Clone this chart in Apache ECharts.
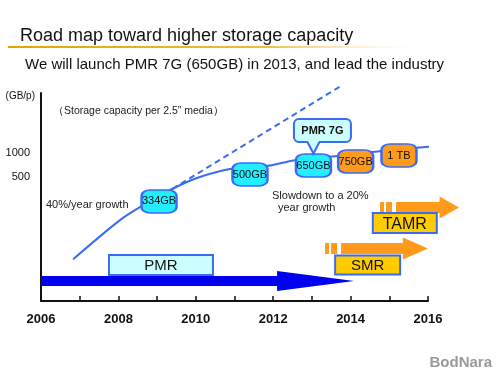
<!DOCTYPE html>
<html>
<head>
<meta charset="utf-8">
<script src="https://cdn.jsdelivr.net/npm/echarts@6/dist/echarts.min.js"></script>
<style>
html,body{margin:0;padding:0;background:#fff;}
#chart{width:500px;height:375px;}
</style>
</head>
<body>
<div id="chart"></div>
<script>
// ---------- DATA ----------
const xTickYears = [2006, 2008, 2010, 2012, 2014, 2016];
const yTickValues = [500, 1000];

// capacity growth curve (year, GB per platter)
const curveYears = [2006.83, 2008.04, 2008.61, 2009.39, 2010.03, 2010.88, 2011.84, 2012.59, 2013.67, 2014.81, 2016.52];
const curveGB    = [47, 145, 218, 355, 487, 631, 688, 818, 917, 1059, 1259];

// 40%/year extrapolation (dashed)
const trendYears = [2009.39, 2013.75];
const trendGB    = [355, 6879];

// capacity milestones
const milestoneLabels = ['334GB', '500GB', '650GB', '750GB', '1 TB'];
const milestoneYears  = [2009.05, 2011.40, 2013.04, 2014.13, 2015.25];
const milestoneGB     = [248, 539, 698, 783, 931];
const milestoneKind   = ['pmr', 'pmr', 'pmr', 'next', 'next'];

// technology roadmap arrows
const techNames     = ['PMR', 'SMR', 'TAMR'];
const techStart     = [2006.0, 2013.34, 2014.76];
const techHeadStart = [2012.10, 2015.35, 2016.30];
const techEnd       = [2014.09, 2016.00, 2016.80];
const techLaneGB    = [25.1, 64, 208];
const techLabelYear = [2009.10, 2014.44, 2015.40];
const techLabelGB   = [39.8, 39.8, 133];

const calloutText = 'PMR 7G';
const calloutIndex = 2;

// ---------- STYLE ----------
const FONT = '"Liberation Sans", Arial, sans-serif';
const lineBlue = '#3A6BF5';
const arrowColors = ['#0000F0', '#FF9A1A', '#FF9A1A'];
const techBoxColors = ['#CCFFFF', '#FFCC00', '#FFCC00'];
const techBoxSizes = [[104, 20], [65, 19], [64, 20]];
const techFontSizes = [15, 15, 16];

const chart = echarts.init(document.getElementById('chart'), null, {renderer: 'canvas'});

function renderArrow(params, api) {
  const i = params.dataIndex;
  const lane = api.value(3);
  const s = api.coord([api.value(0), lane]);
  const hs = api.coord([api.value(1), lane]);
  const e = api.coord([api.value(2), lane]);
  const y = s[1];
  const bh = i === 0 ? 10 : 11, hh = i === 0 ? 20 : 22;
  const color = arrowColors[i];
  const striped = i > 0;
  const x0 = striped ? s[0] + 16 : s[0];
  const children = [{
    type: 'polygon',
    shape: {points: [[x0, y - bh / 2], [hs[0], y - bh / 2], [hs[0], y - hh / 2], [e[0], y],
                     [hs[0], y + hh / 2], [hs[0], y + bh / 2], [x0, y + bh / 2]]},
    style: {fill: color}
  }];
  if (striped) {
    children.push({type: 'rect', shape: {x: s[0], y: y - bh / 2, width: 4, height: bh}, style: {fill: color}});
    children.push({type: 'rect', shape: {x: s[0] + 6, y: y - bh / 2, width: 6, height: bh}, style: {fill: color}});
  }
  return {type: 'group', children: children};
}

function renderTechBox(params, api) {
  const i = params.dataIndex;
  const p = api.coord([api.value(0), api.value(1)]);
  const w = techBoxSizes[i][0], h = techBoxSizes[i][1];
  return {
    type: 'group',
    children: [
      {type: 'rect', shape: {x: p[0] - w / 2, y: p[1] - h / 2, width: w, height: h},
       style: {fill: techBoxColors[i], stroke: lineBlue, lineWidth: 2}},
      {type: 'text', style: {x: p[0], y: p[1] + 1, text: techNames[i], align: 'center', verticalAlign: 'middle',
        font: techFontSizes[i] + 'px ' + FONT, fill: '#111'}}
    ]
  };
}

function renderCallout(params, api) {
  const p = api.coord([api.value(0), api.value(1)]);
  const bx = p[0] - 19.5, by = p[1] - 46.5, bw = 57, bh = 23;
  const tipX = p[0], tipY = p[1] - 12;
  const fill = '#CCFFFF', stroke = lineBlue;
  return {
    type: 'group',
    children: [
      {type: 'rect', shape: {x: bx, y: by, width: bw, height: bh, r: 5}, style: {fill: fill, stroke: stroke, lineWidth: 2}},
      {type: 'polygon', shape: {points: [[tipX - 6, by + bh - 1.5], [tipX + 6, by + bh - 1.5], [tipX, tipY]]}, style: {fill: fill}},
      {type: 'polyline', shape: {points: [[tipX - 6, by + bh], [tipX, tipY], [tipX + 6, by + bh]]}, style: {stroke: stroke, lineWidth: 2, fill: null}},
      {type: 'text', style: {x: bx + bw / 2, y: by + bh / 2 + 0.5, text: calloutText, align: 'center', verticalAlign: 'middle',
        font: 'bold 11px ' + FONT, fill: '#111'}}
    ]
  };
}

const option = {
  backgroundColor: '#ffffff',
  animation: false,
  textStyle: {fontFamily: FONT},
  title: [
    {text: 'Road map toward higher storage capacity', left: 15, top: 22,
     textStyle: {fontSize: 18, fontWeight: 'normal', color: '#111', fontFamily: FONT}},
    {text: 'We will launch PMR 7G (650GB) in 2013, and lead the industry', left: 20, top: 52,
     textStyle: {fontSize: 15, fontWeight: 'normal', color: '#111', fontFamily: FONT}}
  ],
  grid: {left: 41, right: 72, top: 93, bottom: 74},
  xAxis: {
    type: 'value', min: 2006, max: 2016, interval: 1,
    axisLine: {show: true, lineStyle: {color: '#111', width: 2}},
    axisTick: {show: true, inside: true, length: 5, lineStyle: {color: '#111', width: 1.5}},
    splitLine: {show: false},
    axisLabel: {
      margin: 12, fontSize: 13, fontWeight: 'bold', color: '#111', fontFamily: FONT,
      formatter: v => (xTickYears.indexOf(v) >= 0 ? String(v) : '')
    }
  },
  yAxis: {
    type: 'log', logBase: 10, min: 14.13, max: 5623,
    name: '(GB/p)', nameLocation: 'end', nameGap: -3,
    nameTextStyle: {fontSize: 10, color: '#111', align: 'right', verticalAlign: 'middle', padding: [0, 6, 0, 0], fontFamily: FONT},
    axisLine: {show: true, lineStyle: {color: '#111', width: 2}},
    axisTick: {show: false},
    splitLine: {show: false},
    axisLabel: {customValues: yTickValues, margin: 11, fontSize: 11, color: '#111', fontFamily: FONT,
      formatter: v => String(Math.round(v))}
  },
  graphic: [
    {type: 'rect', left: 8, top: 46, shape: {width: 430, height: 2},
     style: {fill: new echarts.graphic.LinearGradient(0, 0, 1, 0, [
       {offset: 0, color: '#E3A600'}, {offset: 0.6, color: '#EDBE3A'}, {offset: 1, color: 'rgba(255,255,255,0)'}])}},
    {type: 'text', left: 53, top: 106, style: {text: '（Storage capacity per 2.5” media）', font: '10.5px ' + FONT, fill: '#222'}},
    {type: 'text', left: 46, top: 199, style: {text: '40%/year growth', font: '11px ' + FONT, fill: '#222'}},
    {type: 'text', left: 272, top: 190, style: {text: 'Slowdown to a 20%', font: '11px ' + FONT, fill: '#222'}},
    {type: 'text', left: 278, top: 202, style: {text: 'year growth', font: '11px ' + FONT, fill: '#222'}},
    {type: 'text', right: 8, bottom: 5, style: {text: 'BodNara', font: 'bold 15px ' + FONT, fill: '#9a9a9a'}}
  ],
  series: [
    {
      type: 'custom', name: 'arrows', clip: false, z: 2,
      renderItem: renderArrow,
      data: techNames.map((n, i) => [techStart[i], techHeadStart[i], techEnd[i], techLaneGB[i]])
    },
    {
      type: 'custom', name: 'techBoxes', clip: false, z: 3,
      renderItem: renderTechBox,
      data: techNames.map((n, i) => [techLabelYear[i], techLabelGB[i]])
    },
    {
      type: 'line', name: 'trend', clip: false, z: 4, symbol: 'none',
      lineStyle: {color: lineBlue, width: 2, type: [6, 4]},
      data: trendYears.map((y, i) => [y, trendGB[i]])
    },
    {
      type: 'line', name: 'capacity', clip: false, z: 4, symbol: 'none', smooth: 0.3,
      lineStyle: {color: lineBlue, width: 2},
      data: curveYears.map((y, i) => [y, curveGB[i]])
    },
    {
      type: 'scatter', name: 'milestones', z: 5, clip: false,
      symbol: 'roundRect', symbolSize: [35, 23],
      itemStyle: {color: p => (milestoneKind[p.dataIndex] === 'pmr' ? '#22EEFF' : '#FF9A1A'),
        borderColor: lineBlue, borderWidth: 2, opacity: 1},
      label: {show: true, position: 'inside', color: '#111', fontSize: 11, fontFamily: FONT,
        formatter: p => milestoneLabels[p.dataIndex]},
      data: milestoneLabels.map((l, i) => [milestoneYears[i], milestoneGB[i]])
    },
    {
      type: 'custom', name: 'callout', clip: false, z: 6,
      renderItem: renderCallout,
      data: [[milestoneYears[calloutIndex], milestoneGB[calloutIndex]]]
    }
  ]
};
chart.setOption(option);
</script>
</body>
</html>
